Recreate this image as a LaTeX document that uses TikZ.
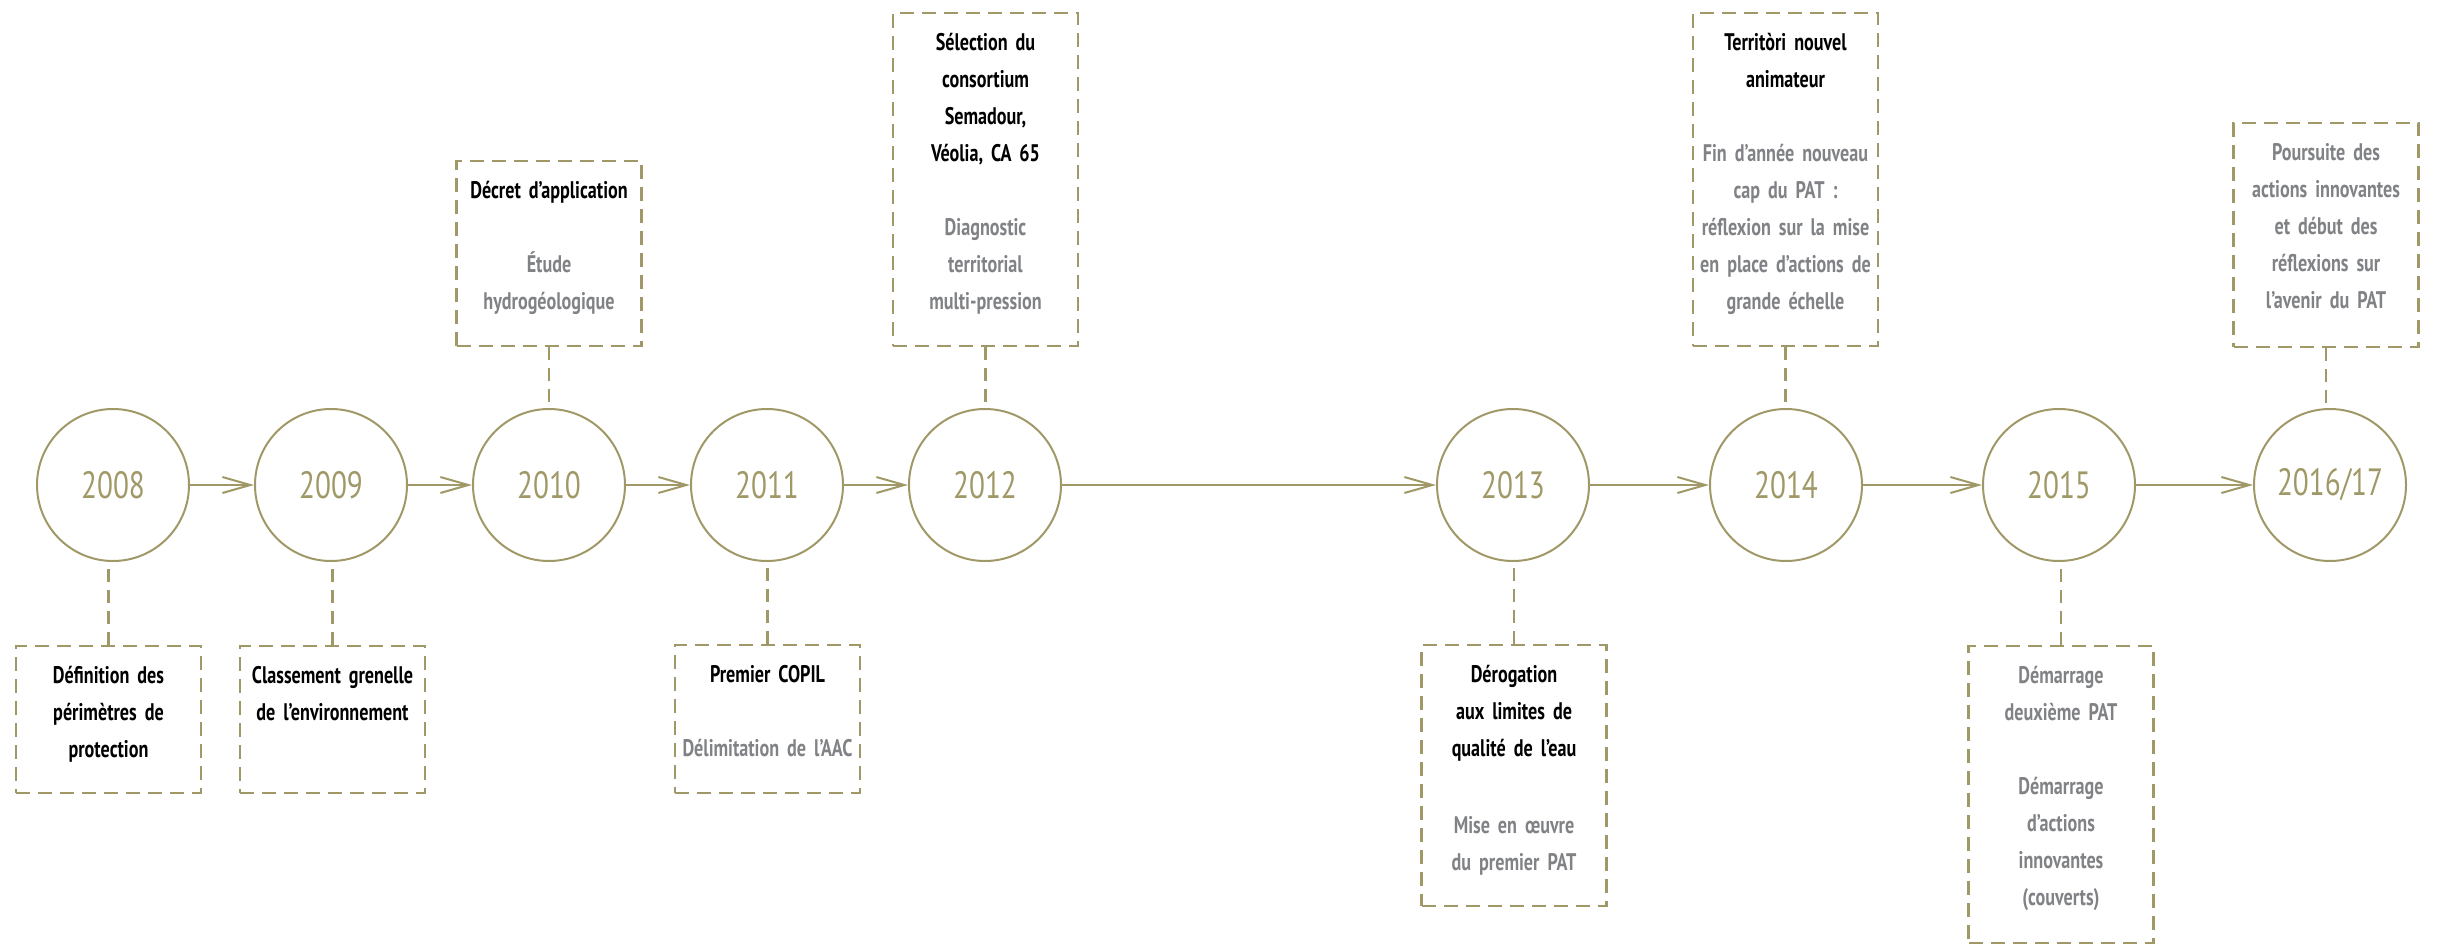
\documentclass[tikz,border=0pt]{standalone}
\usepackage{fontspec}
\usetikzlibrary{arrows.meta}
\newfontfamily\yearfont{PT Sans}[FakeStretch=0.77]
\newfontfamily\labfont{PT Sans}[FakeStretch=0.755]
\newcommand\labspacing{\spaceskip 4.5pt plus 1pt minus 1pt\relax}
\definecolor{olv}{RGB}{160,153,103}
\definecolor{gry}{RGB}{128,130,133}
\begin{document}
\begin{tikzpicture}[x=1pt,y=-1pt,
  year/.style={circle, draw=olv, line width=2pt, minimum size=152pt, inner sep=0pt,
    text=olv, font=\yearfont\fontsize{38}{40}\selectfont},
  evbox/.style={draw=olv, line width=2.5pt, dash pattern=on 14pt off 8pt,
    minimum width=185pt, inner sep=0pt},
  lab/.style={anchor=north, inner sep=0pt, text width=184pt, align=center,
    font=\labfont\bfseries\fontsize{24}{37}\selectfont\labspacing},
  link/.style={draw=olv, line width=2pt, -{Straight Barb[length=28pt,width=16pt]}},
  conn/.style={draw=olv, line width=2.5pt, dash pattern=on 13pt off 8pt}]
\useasboundingbox (0,0) rectangle (2439,945);

% year circles
\node[year] (c08) at (113,485) {2008};
\node[year] (c09) at (331,485) {2009};
\node[year] (c10) at (549,485) {2010};
\node[year] (c11) at (767,485) {2011};
\node[year] (c12) at (985,485) {2012};
\node[year] (c13) at (1513,485) {2013};
\node[year] (c14) at (1786,485) {2014};
\node[year] (c15) at (2059,485) {2015};
\node[year] (c16) at (2330,485) {2016/17};

% arrows
\draw[link] (c08) -- (c09);
\draw[link] (c09) -- (c10);
\draw[link] (c10) -- (c11);
\draw[link] (c11) -- (c12);
\draw[link] (c12) -- (c13);
\draw[link] (c13) -- (c14);
\draw[link] (c14) -- (c15);
\draw[link] (c15) -- (c16);

% event boxes
\node[evbox, minimum height=147pt] (b08) at (108.5,719.5) {};
\node[evbox, minimum height=147pt] (b09) at (332.5,719.5) {};
\node[evbox, minimum height=185pt] (b10) at (549,253.5) {};
\node[evbox, minimum height=148pt] (b11) at (767.5,719) {};
\node[evbox, minimum height=333pt] (b12) at (985.5,179.5) {};
\node[evbox, minimum height=261pt] (b13) at (1514,775.5) {};
\node[evbox, minimum height=333pt] (b14) at (1785.5,179.5) {};
\node[evbox, minimum height=297pt] (b15) at (2061,794.5) {};
\node[evbox, minimum height=224pt] (b16) at (2326,235) {};

% connectors
\draw[conn] (b08.north) -- (b08.north |- c08.south);
\draw[conn] (b09.north) -- (b09.north |- c09.south);
\draw[conn] (b10.south) -- (b10.south |- c10.north);
\draw[conn] (b11.north) -- (b11.north |- c11.south);
\draw[conn] (b12.south) -- (b12.south |- c12.north);
\draw[conn] (b13.north) -- (b13.north |- c13.south);
\draw[conn] (b14.south) -- (b14.south |- c14.north);
\draw[conn] (b15.north) -- (b15.north |- c15.south);
\draw[conn] (b16.south) -- (b16.south |- c16.north);

% texts
\node[lab] (t08) at ([yshift=-17pt]b08.north) {\rule{0pt}{22pt}Définition des\\périmètres de\\protection};
\node[lab] (t09) at ([yshift=-17pt]b09.north) {\rule{0pt}{22pt}Classement grenelle\\de l’environnement};
\node[lab] (t10) at ([yshift=-17pt]b10.north) {\rule{0pt}{22pt}Décret d’application\\[37pt]\color{gry}Étude\\hydrogéologique};
\node[lab] (t11) at ([yshift=-17pt]b11.north) {\rule{0pt}{22pt}Premier COPIL\\[37pt]\color{gry}Délimitation de l’AAC};
\node[lab] (t12) at ([yshift=-17pt]b12.north) {\rule{0pt}{22pt}Sélection du\\consortium\\Semadour,\\Véolia, CA 65\\[37pt]\color{gry}Diagnostic\\territorial\\multi-pression};
\node[lab] (t13) at ([yshift=-17pt]b13.north) {\rule{0pt}{22pt}Dérogation\\aux limites de\\qualité de l’eau\\[40pt]\color{gry}Mise en œuvre\\du premier PAT};
\node[lab] (t14) at ([yshift=-17pt]b14.north) {\rule{0pt}{22pt}Territòri nouvel\\animateur\\[37pt]\color{gry}Fin d’année nouveau\\cap du PAT :\\réflexion sur la mise\\en place d’actions de\\grande échelle};
\node[lab, text=gry] (t15) at ([yshift=-17pt]b15.north) {\rule{0pt}{22pt}Démarrage\\deuxième PAT\\[37pt]Démarrage\\d’actions\\innovantes\\(couverts)};
\node[lab, text=gry] (t16) at ([yshift=-17pt]b16.north) {\rule{0pt}{22pt}Poursuite des\\actions innovantes\\et début des\\réflexions sur\\l’avenir du PAT};
\end{tikzpicture}
\end{document}
